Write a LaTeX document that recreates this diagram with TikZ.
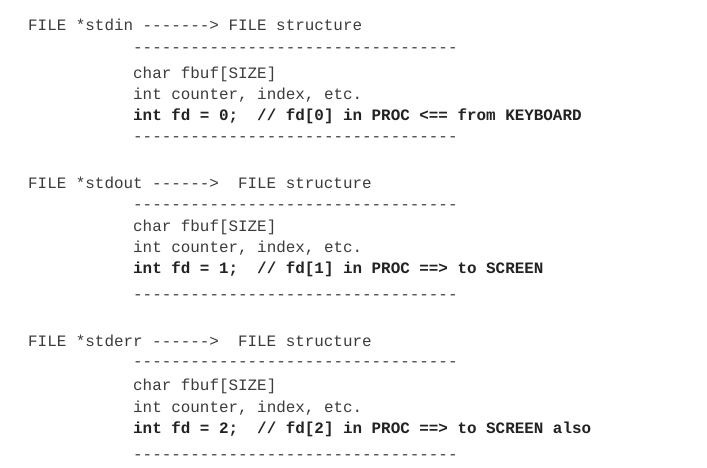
\documentclass[tikz,border=0pt]{standalone}
\usepackage{fontspec}
\setmonofont{Liberation Mono}
\definecolor{txt}{HTML}{3C3C3C}
\definecolor{bld}{HTML}{222222}
\tikzset{
  ln/.style={anchor=base west, inner sep=0pt, font=\fontsize{15.9}{18}\ttfamily, text=txt},
  bl/.style={ln, font=\fontsize{15.9}{18}\ttfamily\bfseries, text=bld},
}
\begin{document}
\begin{tikzpicture}[x=1pt,y=1pt]
\useasboundingbox[fill=white] (0,0) rectangle (707,-467);
% block 1
\node[ln] (h1) at (28,-30) {FILE *stdin -------> FILE structure};
\node[ln] (d1a) at (133,-52) {----------------------------------};
\node[ln] (c1) at (133,-78) {char fbuf[SIZE]};
\node[ln] (i1) at (133,-99) {int counter, index, etc.};
\node[bl] (f1) at (133,-120) {int fd = 0;~~// fd[0] in PROC <== from KEYBOARD};
\node[ln] (d1b) at (133,-141) {----------------------------------};
% block 2
\node[ln] (h2) at (28,-188) {FILE *stdout ------>~~FILE structure};
\node[ln] (d2a) at (133,-209) {----------------------------------};
\node[ln] (c2) at (133,-231) {char fbuf[SIZE]};
\node[ln] (i2) at (133,-252) {int counter, index, etc.};
\node[bl] (f2) at (133,-273) {int fd = 1;~~// fd[1] in PROC ==> to SCREEN};
\node[ln] (d2b) at (133,-299) {----------------------------------};
% block 3
\node[ln] (h3) at (28,-346) {FILE *stderr ------>~~FILE structure};
\node[ln] (d3a) at (133,-366) {----------------------------------};
\node[ln] (c3) at (133,-390) {char fbuf[SIZE]};
\node[ln] (i3) at (133,-412) {int counter, index, etc.};
\node[bl] (f3) at (133,-433) {int fd = 2;~~// fd[2] in PROC ==> to SCREEN also};
\node[ln] (d3b) at (133,-459) {----------------------------------};
\end{tikzpicture}
\end{document}
